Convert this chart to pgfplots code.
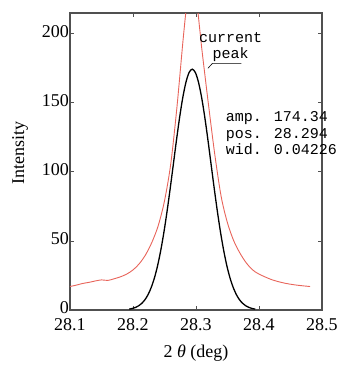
\documentclass[border=0pt]{standalone}
\usepackage{fontspec}
\setmainfont{Liberation Serif}
\newfontfamily\monofont{Liberation Mono}
\usepackage{pgfplots}
\pgfplotsset{compat=1.18}
\definecolor{framegray}{RGB}{80,80,80}
\definecolor{peakred}{RGB}{232,100,90}
\begin{document}
\begin{tikzpicture}
\useasboundingbox (-70pt,-55pt) rectangle (269pt,310pt);
\begin{axis}[
  scale only axis,
  width=252pt, height=297pt,
  xmin=28.1, xmax=28.5, ymin=0, ymax=215,
  xtick={28.1,28.2,28.3,28.4,28.5},
  ytick={0,50,100,150,200},
  xticklabels={28.1,28.2,28.3,28.4,28.5},
  tick align=inside,
  major tick length=4pt,
  every tick/.style={framegray, line width=0.8pt},
  axis line style={framegray, line width=1.6pt},
  tick label style={font=\fontsize{18}{18}\selectfont},
  /pgf/number format/assume math mode=true,
  yticklabel style={inner sep=0.8pt, yshift=2.5pt},
  xticklabel style={inner sep=1pt, yshift=-7pt},
  xlabel={2 \textit{θ} (deg)},
  ylabel={Intensity},
  label style={font=\fontsize{18}{18}\selectfont},
  xlabel style={at={(axis description cs:0.5,-0.145)}, anchor=center},
  ylabel style={at={(axis description cs:-0.198,0.53)}, anchor=center, rotate=0},
  clip mode=individual,
]
% measured profile (red)
\addplot[peakred, line width=0.9pt, smooth] coordinates {
(28.100,17) (28.110,18) (28.120,19.2) (28.130,20) (28.140,21) (28.150,21.8)
(28.160,21.4) (28.170,22.6) (28.180,24) (28.190,26) (28.200,29) (28.210,33.5)
(28.220,40) (28.230,49) (28.240,61) (28.250,79) (28.260,106) (28.270,148)
(28.280,198) (28.288,232) (28.294,240) (28.300,228) (28.306,203) (28.310,186)
(28.320,148) (28.330,112) (28.340,82) (28.350,63) (28.360,50) (28.370,41)
(28.380,34) (28.390,29) (28.400,26) (28.420,22) (28.440,19.5) (28.460,18)
(28.481,17)
};
% fitted peak (black)
\addplot[black, line width=1.3pt, smooth] coordinates {
(28.194,0.65) (28.199,1.11) (28.204,1.87) (28.209,3.05) (28.214,4.84)
(28.219,7.47) (28.224,11.2) (28.229,16.4) (28.234,23.2) (28.239,32.0)
(28.244,43.0) (28.249,56.1) (28.254,71.2) (28.259,87.8) (28.264,105.3)
(28.269,122.9) (28.274,139.4) (28.279,153.7) (28.284,164.8) (28.289,171.9)
(28.294,174.34) (28.299,171.9) (28.304,164.8) (28.309,153.7) (28.314,139.4)
(28.319,122.9) (28.324,105.3) (28.329,87.8) (28.334,71.2) (28.339,56.1)
(28.344,43.0) (28.349,32.0) (28.354,23.2) (28.359,16.4) (28.364,11.2)
(28.369,7.47) (28.374,4.84) (28.379,3.05) (28.384,1.87) (28.389,1.11)
(28.394,0.65)
};
\node[font=\monofont\fontsize{15}{15}\selectfont, inner sep=0pt] at (axis cs:28.355,197) {current};
\node[font=\monofont\fontsize{15}{15}\selectfont, inner sep=0pt] at (axis cs:28.355,185) {peak};
\draw[black, line width=0.6pt] (axis cs:28.319,175) -- (axis cs:28.326,178.5) -- (axis cs:28.372,178.5);
\node[font=\monofont\fontsize{15}{16.5}\selectfont, inner sep=0pt, anchor=west, align=left] at (axis cs:28.347,128) {amp. 174.34\\pos. 28.294\\wid. 0.04226};
\end{axis}
\end{tikzpicture}
\end{document}
